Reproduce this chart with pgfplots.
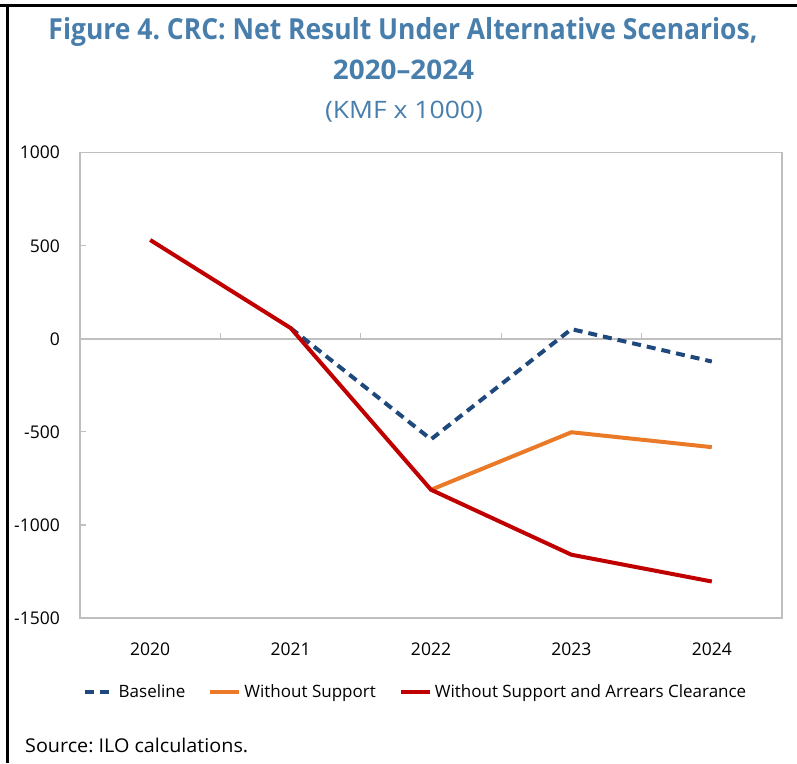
\documentclass[border=0pt]{standalone}
\usepackage{fontspec}
\setmainfont{Open Sans}
\usepackage{graphicx}
\usepackage{pgfplots}
\pgfplotsset{compat=1.18}
\definecolor{titleblue}{RGB}{72,126,172}
\definecolor{baseblue}{RGB}{31,73,125}
\definecolor{xorange}{RGB}{235,122,40}
\definecolor{xred}{RGB}{192,0,0}
\definecolor{framegray}{RGB}{191,191,191}
\frenchspacing
\begin{document}
\frenchspacing
\begin{tikzpicture}[x=1pt,y=1pt]
\path[use as bounding box] (0,0) rectangle (797,763);
% outer frame (top and left)
\draw[line width=3pt] (0,757.5) -- (797,757.5);
\draw[line width=3pt] (7,0) -- (7,759);
% titles
\node[anchor=base, inner sep=0pt, text=titleblue, font=\bfseries\fontsize{29}{34}\selectfont] at (403,723)
  {\resizebox{709pt}{\height}{Figure 4. CRC: Net Result Under Alternative Scenarios,}};
\node[anchor=base, inner sep=0pt, text=titleblue, font=\bfseries\fontsize{27}{32}\selectfont] at (403.5,683.7)
  {\resizebox{141pt}{\height}{2020--2024}};
\node[anchor=base, inner sep=0pt, text=titleblue, font=\fontsize{24}{29}\selectfont] at (404,644.7)
  {\resizebox{158pt}{\height}{(KMF x 1000)}};
\node[anchor=base west, inner sep=0pt, font=\fontsize{19}{23}\selectfont] at (25,11)
  {\resizebox{223pt}{\height}{Source: ILO calculations.}};
\begin{axis}[
  at={(80pt,145pt)}, anchor=south west,
  scale only axis, width=702pt, height=465.3pt,
  xmin=-0.5, xmax=4.5, ymin=-1500, ymax=1000,
  xtick={0,1,2,3,4},
  xticklabels={2020,2021,2022,2023,2024},
  ytick={-1500,-1000,-500,0,500,1000},
  yticklabels={-1500,-1000,-500,0,500,1000},
  axis line style={draw=framegray, line width=1.5pt},
  xtick style={draw=none},
  ytick style={draw=framegray, line width=1.2pt},
  ytick pos=left,
  tick align=inside,
  major tick length=6pt,
  tick label style={font=\fontsize{17.5}{21}\selectfont, text=black},
  xticklabel style={anchor=base, inner sep=0pt, yshift=-37pt},
  yticklabel style={anchor=east, inner sep=0pt, xshift=-20pt},
  legend columns=3,
  legend style={draw=none, fill=none, at={(0.4786,-0.159)}, anchor=center,
    font=\fontsize{17}{20}\selectfont, inner xsep=0pt,
    /tikz/every even column/.append style={column sep=20pt},
    nodes={inner sep=3pt}},
  legend cell align=left,
  legend image code/.code={\draw[#1] (0pt,0pt) -- (29pt,0pt);},
  clip=false,
]
% zero line with category boundary ticks
\draw[draw=framegray, line width=1.5pt] (axis cs:-0.5,0) -- (axis cs:4.5,0);
\draw[draw=framegray, line width=1.2pt] (axis cs:0.5,0) -- ++(0pt,6pt);
\draw[draw=framegray, line width=1.2pt] (axis cs:1.5,0) -- ++(0pt,6pt);
\draw[draw=framegray, line width=1.2pt] (axis cs:2.5,0) -- ++(0pt,6pt);
\draw[draw=framegray, line width=1.2pt] (axis cs:3.5,0) -- ++(0pt,6pt);
\addplot[baseblue, line width=4pt, dash pattern=on 9pt off 6pt] coordinates {
  (1,58) (2,-540) (3,52) (4,-122)
};
\addlegendentry{Baseline}
\addplot[xorange, line width=4pt] coordinates {
  (2,-811) (3,-502) (4,-582)
};
\addlegendentry{Without Support}
\addplot[xred, line width=4pt] coordinates {
  (0,531) (1,58) (2,-811) (3,-1160) (4,-1304)
};
\addlegendentry{Without Support and Arrears Clearance}
\end{axis}
\end{tikzpicture}
\end{document}
